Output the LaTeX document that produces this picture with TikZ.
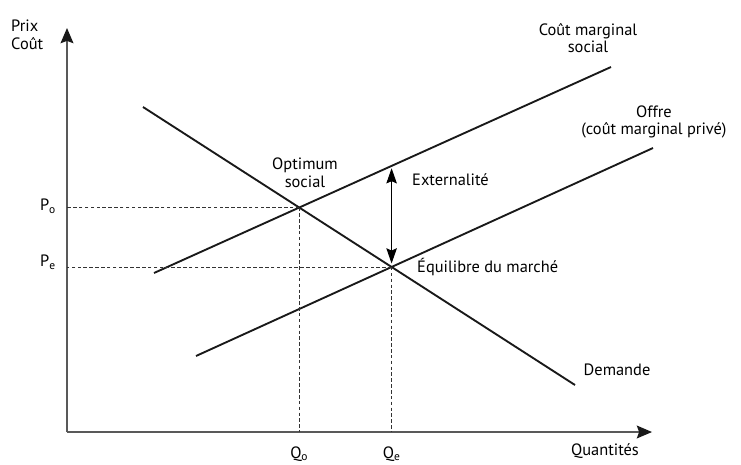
\documentclass[tikz,border=0pt]{standalone}
\usepackage{fontspec}
\setmainfont{PT Sans}
\usetikzlibrary{arrows.meta, intersections}
\tikzstyle{axe}=[line width=1pt, black!65, -{Stealth[length=13pt, width=11pt, inset=2pt, color=black!90]}]
\tikzstyle{courbe}=[line width=1.6pt, black!90]
\tikzstyle{tiret}=[dashed, dash pattern=on 3pt off 2pt, line width=0.7pt, black!80]
\tikzstyle{etiq}=[font=\fontsize{14}{15}\selectfont, inner sep=0pt, align=center]
\newcommand{\etiq}{\node[etiq]}

\begin{document}
\begin{tikzpicture}[x=0.03cm, y=0.03cm]
\useasboundingbox (0,0) rectangle (741,464);
% axes
\coordinate (O) at (67,32);
\coordinate (Ymax) at (67,436);
\coordinate (Xmax) at (652,32);
\draw[axe] (O) -- (Ymax);
\draw[axe] (O) -- (Xmax);
% courbes
\coordinate (d1) at (143,357); \coordinate (d2) at (575,79);
\coordinate (s1) at (154,191); \coordinate (s2) at (611,397);
\coordinate (o1) at (196,108); \coordinate (o2) at (653,316);
\draw[courbe, name path=dem] (d1) -- (d2);
\draw[courbe, name path=cms] (s1) -- (s2);
\draw[courbe, name path=off] (o1) -- (o2);
\path[name intersections={of=dem and cms, by=Opt}];
\path[name intersections={of=dem and off, by=Eq}];
\path[name path=vert] (Eq) -- ++(0,200);
\path[name intersections={of=vert and cms, by=Ext}];
% pointilles
\foreach \p in {Opt, Eq}{
	\draw[tiret] (\p) -- (\p -| O);
	\draw[tiret] (\p) -- (\p |- O);
	}
\draw[line width=0.8pt, {Stealth[length=13pt, width=9pt, inset=2pt]}-{Stealth[length=13pt, width=9pt, inset=2pt]}] ([yshift=-2]Ext) -- ([yshift=3]Eq);
% etiquettes
\etiq[anchor=west, align=left] (prix) at (11,429){Prix\\Coût};
\etiq (po) at (48,258){P\textsubscript{o}};
\etiq (pe) at (48,202){P\textsubscript{e}};
\etiq (qo) at (Opt |- 0,10){Q\textsubscript{o}};
\etiq (qe) at (Eq |- 0,10){Q\textsubscript{e}};
\etiq (quant) at (605,13){Quantités};
\etiq (cmsl) at (588,426){Coût marginal\\social};
\etiq (offl) at (654,342){Offre\\(coût marginal privé)};
\etiq (optl) at (305,291){Optimum\\social};
\etiq[anchor=west] (extl) at (412,284){Externalité};
\etiq[anchor=west] (eql) at (417,197){Équilibre du marché};
\etiq (deml) at (617,94){Demande};
\end{tikzpicture}
\end{document}
